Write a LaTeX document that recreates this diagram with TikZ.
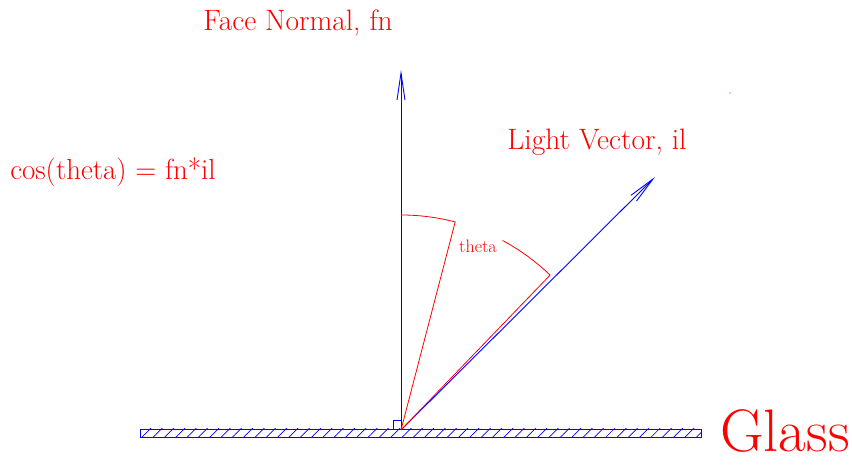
\documentclass[tikz,border=0pt]{standalone}
\usepackage{tikz}
\usetikzlibrary{arrows.meta, patterns.meta, calc}

\begin{document}
\begin{tikzpicture}[x=1pt, y=1pt,
  vec/.style={draw=blue, line width=0.9pt,
              -{Straight Barb[length=27pt, width=8pt, line width=0.9pt]}},
  marker/.style={draw=red, line width=0.8pt},
  lbl/.style={text=red, inner sep=0pt, anchor=base, font=\fontsize{29.5}{34}\selectfont}
]
  \useasboundingbox (0,0) rectangle (852,466);

  %% ── base point and vector tips ──
  \coordinate (O)  at (401,36);
  \coordinate (FN) at (401,396);
  \coordinate (IL) at (655,289);

  %% ── glass plate ──
  \draw[blue, line width=0.8pt, pattern={Lines[angle=45, distance=8pt, line width=0.7pt]},
        pattern color=blue]
    (140,29) rectangle (701,37);
  \draw[blue, line width=0.8pt] (O) ++(-8,1) rectangle ++(8,9);

  %% ── vectors ──
  \draw[vec] (O) -- (FN);
  \draw[vec] (O) -- (IL);

  %% ── angle marks ──
  \draw[marker] (O) -- ($(O)+(75.4:215)$) arc[start angle=75.4, end angle=90, radius=215];
  \draw[marker] (O) -- ($(O)+(46.1:215)$) arc[start angle=46.1, end angle=61.8, radius=215];
  \fill[red] (730,373) circle (0.7);

  %% ── labels ──
  \node[lbl] (fnlbl) at (298,435) {Face Normal, fn};
  \node[lbl] (illbl) at (597,316) {Light Vector, il};
  \node[lbl, font=\fontsize{29}{34}\selectfont] (cos) at (113,286) {cos(theta) = fn*il};
  \node[lbl, font=\fontsize{18}{21}\selectfont] (th) at (478,213) {theta};
  \node[lbl, font=\fontsize{60}{68}\selectfont] (glass) at (785,14) {Glass};
\end{tikzpicture}
\end{document}
